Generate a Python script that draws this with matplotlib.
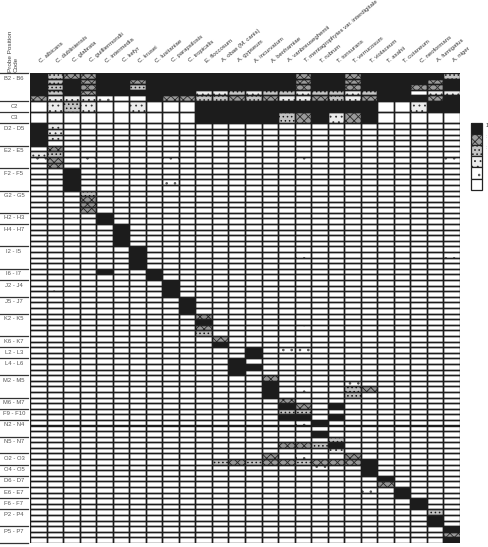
import matplotlib
matplotlib.use("Agg")
import matplotlib.pyplot as plt
import numpy as np

plt.rcParams['font.family'] = ['Liberation Sans', 'DejaVu Sans']
plt.rcParams['hatch.linewidth'] = 0.6

species = ["C. albicans", "C. dubliniensis", "C. glabrata", "C. guilliermondii",
           "C. intermedia", "C. kefyr", "C. krusei", "C. lusitaniae",
           "C. parapsilosis", "C. tropicalis", "E. floccosum", "A. obae (M. canis)",
           "A. gypseum", "A. incurvatum", "A. benhamiae", "A. vanbreuseghemii",
           "T. mentagrophytes var. interdigitale", "T. rubrum", "T. tonsurans",
           "T. verrucosum", "T. violaceum", "T. asahii", "T. cutaneum",
           "C. neoformans", "A. fumigatus", "A. niger"]

group_labels = ["B2 - B6", "C2", "C3", "D2 - D5", "E2 - E5", "F2 - F5", "G2 - G5",
                "H2 - H3", "H4 - H7", "I2 - I5", "I6 - I7", "J2 - J4", "J5 - J7",
                "K2 - K5", "K6 - K7", "L2 - L3", "L4 - L6", "M2 - M5", "M6 - M7",
                "F9 - F10", "N2 - N4", "N5 - N7", "O2 - O3", "O4 - O5", "D6 - D7",
                "E6 - E7", "F6 - F7", "P2 - P4", "P5 - P7"]
group_sizes = [5, 1, 1, 4, 4, 4, 4, 2, 4, 4, 2, 3, 3, 4, 2, 2, 3, 4, 2, 2, 3, 3,
               2, 2, 2, 2, 2, 3, 3]

# signal level per cell: 5 = full (black), 4..1 = patterned, 0 = none
b_block = ["53445 55555 55555 54554 55555 3",
           "53545 54555 55555 54554 55554 5",
           "53545 53555 55555 54554 55544 5",
           "53545 55555 22323 32332 35502 2",
           "42221 00544 33434 22432 45554 5"]
c_block = ["02320 02000 55555 55555 50025 5",
           "00000 00000 55555 34524 50000 0"]
probe_rows = [
    "52000 00000 00000 00000 00000 0",  # D2
    "52000 00000 00000 00000 00000 0",
    "52010 00000 00000 00000 00000 0",
    "50000 00000 00000 00000 00000 0",
    "04000 00000 00000 00000 00000 0",  # E2
    "23000 00000 00000 00000 00000 0",
    "14010 00010 00000 01000 00000 1",
    "04000 00000 00000 00000 00000 0",
    "00500 00000 00000 00000 00000 0",  # F2
    "00500 00000 00000 00000 00000 0",
    "00500 00010 00000 00000 00000 0",
    "00500 00000 00000 00000 00000 0",
    "00030 00000 00000 00000 00000 0",  # G2
    "00040 00000 00000 00000 00000 0",
    "00040 00000 00000 00000 00000 0",
    "00040 00000 00000 00000 00000 0",
    "00005 00000 00000 00000 00000 0",  # H2
    "00005 00000 00000 00000 00000 0",
    "00000 50000 00000 00000 00000 0",  # H4
    "00000 50000 00000 00000 00000 0",
    "00000 50000 00000 00000 00000 0",
    "00000 50000 00000 00000 00000 0",
    "00000 05000 00000 00000 00000 0",  # I2
    "00000 05000 00000 01000 00000 1",
    "00000 05000 00000 00000 00000 0",
    "00000 05000 00000 00000 00000 0",
    "00005 00500 00000 00000 00000 0",  # I6
    "00000 00500 00000 00000 00000 0",
    "00000 00050 00000 00000 00000 0",  # J2
    "01000 00050 00000 00000 00000 0",
    "00000 00050 00000 00000 00000 0",
    "00000 00005 00000 00000 00000 0",  # J5
    "00000 00005 00000 00000 00000 0",
    "00000 00005 00000 00000 00000 0",
    "00000 00000 40000 00000 00000 0",  # K2
    "00000 00000 50000 00000 00000 0",
    "00000 00000 40000 01000 00000 0",
    "00000 00000 30000 00000 00000 0",
    "00000 00000 04000 00000 00000 0",  # K6
    "00000 00000 05000 00000 00000 0",
    "00000 00000 00050 11000 00000 0",  # L2
    "00000 00000 00050 00000 00000 0",
    "00000 00000 00500 00000 00000 0",  # L4
    "00000 00000 00550 00000 00000 0",
    "00000 00000 00500 00000 00000 0",
    "00000 00000 00004 00000 00000 0",  # M2
    "00000 00000 00005 00001 00000 0",
    "00000 00000 00005 01003 40000 0",
    "00000 00000 00005 00003 00000 0",
    "00000 00000 00000 40000 00000 0",  # M6
    "00000 00000 00000 54050 00000 0",
    "00000 00000 00000 33000 00000 0",  # F9
    "00000 00000 00000 55050 00000 0",
    "00000 00000 00000 01500 00000 0",  # N2
    "00000 00000 00000 00000 00000 0",
    "00000 00000 00000 00500 00000 0",
    "00000 00000 00000 00030 00000 0",  # N5
    "00000 00000 00000 44350 00000 0",
    "00000 00000 00000 00020 00000 0",
    "00000 00000 00004 01004 00000 0",  # O2
    "00000 00000 13434 43444 50000 0",
    "00000 00000 00000 00100 50000 0",  # O4
    "00000 00000 00000 00000 50000 0",
    "00000 00000 00000 00000 05000 0",  # D6
    "00000 00000 00000 00000 04000 0",
    "00000 00000 00000 00000 10500 0",  # E6
    "00000 00000 00000 00000 00500 0",
    "00000 00000 00000 00000 00050 0",  # F6
    "00000 00000 00000 00000 00050 0",
    "00000 00000 00000 00000 00003 0",  # P2
    "00000 00000 00000 00000 00005 0",
    "00000 00000 00000 00000 00005 0",
    "00000 00000 00000 00000 00000 5",  # P5
    "00000 00000 00000 00000 00000 4",
    "00000 00000 00000 00000 00000 5",
]

legend_levels = [5, 4, 3, 2, 1, 0]
legend_labels = ["1", ":", ":", "", "", ""]

INK = '#1c1c1c'
styles = {
    5: dict(facecolor=INK, edgecolor=INK),
    4: dict(facecolor='#9a9a9a', edgecolor='#2a2a2a', hatch='xxxx'),
    3: dict(facecolor='#c4c4c4', edgecolor='#1a1a1a', hatch='....'),
    2: dict(facecolor='#ededed', edgecolor='#333333', hatch='...'),
    1: dict(facecolor='white', edgecolor='#555555', hatch='..'),
    0: dict(facecolor='white', edgecolor='white'),
}

M = np.array([[int(ch) for ch in s.replace(" ", "")] for s in b_block + c_block + probe_rows])
heights = []
for n in group_sizes:
    heights += [2 if n == 1 else 1] * n
heights = np.array(heights, dtype=float)
tops = np.concatenate([[0], np.cumsum(heights)[:-1]])
total = heights.sum()

fig = plt.figure(figsize=(4.89, 5.47), dpi=100)
ax = fig.add_axes([30 / 489, 4 / 547, 430 / 489, 470 / 547])
ax.set_xlim(0, len(species))
ax.set_ylim(total, 0)
ax.axis('off')

for lev, st in styles.items():
    r, c = np.nonzero(M == lev)
    if len(r) == 0:
        continue
    ax.bar(c, heights[r], bottom=tops[r], width=1, align='edge', linewidth=0, **st)

rr, cc = np.indices(M.shape)
rr, cc = rr.ravel(), cc.ravel()
ax.bar(cc, heights[rr], bottom=tops[rr], width=1, align='edge', fill=False,
       edgecolor=INK, linewidth=1.0)

# column labels
for j, name in enumerate(species):
    ax.text(j + 0.72, -1.7, name, rotation=40, rotation_mode='anchor', ha='left',
            va='bottom', fontsize=4.3, color='#333333', clip_on=False)

# row group labels and separators
group_heights = [heights[sum(group_sizes[:k]):sum(group_sizes[:k + 1])].sum()
                 for k in range(len(group_sizes))]
gtops = np.concatenate([[0], np.cumsum(group_heights)])
for k, lab in enumerate(group_labels):
    ax.text(-0.97, gtops[k] + 0.9, lab, ha='center', va='center', fontsize=4.2,
            color='#555555', clip_on=False)
for y in gtops:
    ax.plot([-1.81, -0.1], [y, y], color='#333333', lw=0.9, clip_on=False)

ax.text(-1.03, -0.2, "Probe Position\nCode", rotation=90, ha='center', va='bottom',
        multialignment='left', fontsize=4.6, color='#444444', clip_on=False)

# legend
for i, lev in enumerate(legend_levels):
    st = dict(styles[lev])
    ax.bar(26.65, 2.0, bottom=8.87 + 2.0 * i, width=0.7, align='edge', linewidth=0,
           clip_on=False, **st)
    ax.bar(26.65, 2.0, bottom=8.87 + 2.0 * i, width=0.7, align='edge', fill=False,
           edgecolor='#222222', linewidth=0.9, clip_on=False)
    if legend_labels[i]:
        ax.text(27.55, 8.87 + 2.0 * i + 0.5, legend_labels[i], fontsize=4,
                color='#333333' if i == 0 else '#aaaaaa', va='center', ha='left',
                clip_on=False)

fig.savefig("out.png", dpi=100)
